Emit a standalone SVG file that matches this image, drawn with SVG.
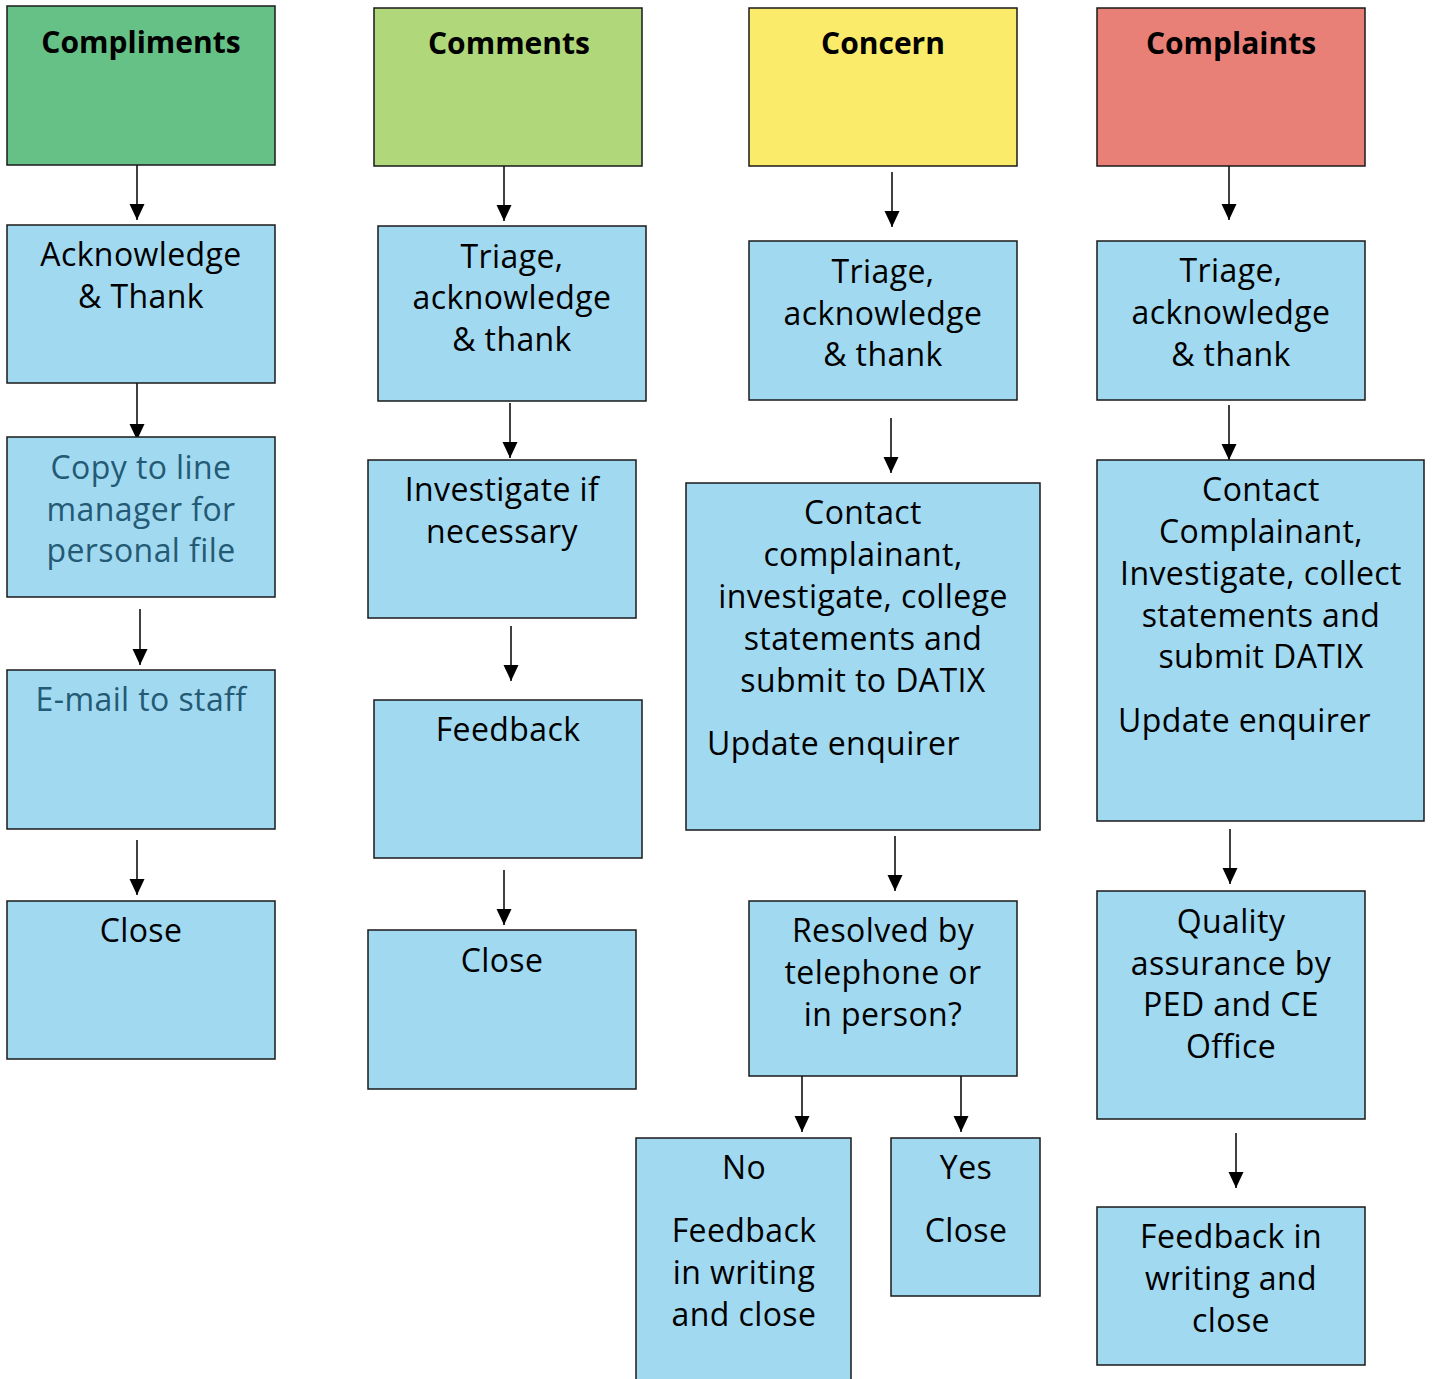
<svg xmlns="http://www.w3.org/2000/svg" width="1432" height="1379" viewBox="0 0 1432 1379">
<style>
.box{stroke:#1a1a1a;stroke-width:1.5;fill:#a1d9f1}
.t{font-family:"Open Sans","Noto Sans","Liberation Sans",sans-serif;font-size:32px;letter-spacing:0.4px;fill:#000;text-anchor:middle}
.h{font-weight:bold;font-size:30px;letter-spacing:0}
.l{text-anchor:start}
.teal{fill:#245a74}
.c{stroke:#000;stroke-width:1.5;fill:none;marker-end:url(#ah)}
</style>
<defs>
<marker id="ah" markerUnits="userSpaceOnUse" markerWidth="16" markerHeight="16" refX="16" refY="7.5" orient="auto" viewBox="0 0 16 15">
<path d="M0,0 L16,7.5 L0,15 Z" fill="#000"/>
</marker>
</defs>
<rect width="1432" height="1379" fill="#fff"/>
<g id="connectors">
<line class="c" x1="137" y1="165" x2="137" y2="220"/>
<line class="c" x1="137" y1="383" x2="137" y2="440"/>
<line class="c" x1="140" y1="609" x2="140" y2="665"/>
<line class="c" x1="137" y1="840" x2="137" y2="895"/>
<line class="c" x1="504" y1="166" x2="504" y2="221"/>
<line class="c" x1="510" y1="403" x2="510" y2="458"/>
<line class="c" x1="511" y1="626" x2="511" y2="681"/>
<line class="c" x1="504" y1="870" x2="504" y2="925"/>
<line class="c" x1="892" y1="172" x2="892" y2="227"/>
<line class="c" x1="891" y1="418" x2="891" y2="473"/>
<line class="c" x1="895" y1="836" x2="895" y2="891"/>
<line class="c" x1="802" y1="1076" x2="802" y2="1132"/>
<line class="c" x1="961" y1="1076" x2="961" y2="1132"/>
<line class="c" x1="1229" y1="166" x2="1229" y2="220"/>
<line class="c" x1="1229" y1="405" x2="1229" y2="460"/>
<line class="c" x1="1230" y1="829" x2="1230" y2="884"/>
<line class="c" x1="1236" y1="1133" x2="1236" y2="1188"/>
</g>
<g id="compliments"><rect class="box" x="7" y="6" width="268" height="159" style="fill:#66c187"/><text class="t h" x="141" y="53">Compliments</text></g>
<g id="acknowledge"><rect class="box" x="7" y="225" width="268" height="158"/><text class="t" x="141" y="266">Acknowledge</text><text class="t" x="141" y="308">&amp; Thank</text></g>
<g id="copy-line-manager"><rect class="box" x="7" y="437" width="268" height="160"/><text class="t teal" x="141" y="479">Copy to line</text><text class="t teal" x="141" y="521">manager for</text><text class="t teal" x="141" y="562">personal file</text></g>
<g id="email-staff"><rect class="box" x="7" y="670" width="268" height="159"/><text class="t teal" x="141" y="711">E-mail to staff</text></g>
<g id="close-1"><rect class="box" x="7" y="901" width="268" height="158"/><text class="t" x="141" y="942">Close</text></g>

<g id="comments"><rect class="box" x="374" y="8" width="268" height="158" style="fill:#b0d87a"/><text class="t h" x="509" y="54">Comments</text></g>
<g id="triage-2"><rect class="box" x="378" y="226" width="268" height="175"/><text class="t" x="512" y="268">Triage,</text><text class="t" x="512" y="309">acknowledge</text><text class="t" x="512" y="351">&amp; thank</text></g>
<g id="investigate"><rect class="box" x="368" y="460" width="268" height="158"/><text class="t" x="502" y="501">Investigate if</text><text class="t" x="502" y="543">necessary</text></g>
<g id="feedback"><rect class="box" x="374" y="700" width="268" height="158"/><text class="t" x="508" y="741">Feedback</text></g>
<g id="close-2"><rect class="box" x="368" y="930" width="268" height="159"/><text class="t" x="502" y="972">Close</text></g>

<g id="concern"><rect class="box" x="749" y="8" width="268" height="158" style="fill:#fbeb6a"/><text class="t h" x="883" y="54">Concern</text></g>
<g id="triage-3"><rect class="box" x="749" y="241" width="268" height="159"/><text class="t" x="883" y="283">Triage,</text><text class="t" x="883" y="325">acknowledge</text><text class="t" x="883" y="366">&amp; thank</text></g>
<g id="contact-3"><rect class="box" x="686" y="483" width="354" height="347"/><text class="t" x="863" y="524">Contact</text><text class="t" x="863" y="566">complainant,</text><text class="t" x="863" y="608">investigate, college</text><text class="t" x="863" y="650">statements and</text><text class="t" x="863" y="692">submit to DATIX</text><text class="t l" x="707" y="755">Update enquirer</text></g>
<g id="resolved"><rect class="box" x="749" y="901" width="268" height="175"/><text class="t" x="883" y="942">Resolved by</text><text class="t" x="883" y="984">telephone or</text><text class="t" x="883" y="1026">in person?</text></g>
<g id="no"><rect class="box" x="636" y="1138" width="215" height="250"/><text class="t" x="744" y="1179">No</text><text class="t" x="744" y="1242">Feedback</text><text class="t" x="744" y="1284">in writing</text><text class="t" x="744" y="1326">and close</text></g>
<g id="yes"><rect class="box" x="891" y="1138" width="149" height="158"/><text class="t" x="966" y="1179">Yes</text><text class="t" x="966" y="1242">Close</text></g>

<g id="complaints"><rect class="box" x="1097" y="8" width="268" height="158" style="fill:#e98077"/><text class="t h" x="1231" y="54">Complaints</text></g>
<g id="triage-4"><rect class="box" x="1097" y="241" width="268" height="159"/><text class="t" x="1231" y="282">Triage,</text><text class="t" x="1231" y="324">acknowledge</text><text class="t" x="1231" y="366">&amp; thank</text></g>
<g id="contact-4"><rect class="box" x="1097" y="460" width="327" height="361"/><text class="t" x="1261" y="501">Contact</text><text class="t" x="1261" y="543">Complainant,</text><text class="t" x="1261" y="585">Investigate, collect</text><text class="t" x="1261" y="627">statements and</text><text class="t" x="1261" y="668">submit DATIX</text><text class="t l" x="1118" y="732">Update enquirer</text></g>
<g id="quality"><rect class="box" x="1097" y="891" width="268" height="228"/><text class="t" x="1231" y="933">Quality</text><text class="t" x="1231" y="975">assurance by</text><text class="t" x="1231" y="1016">PED and CE</text><text class="t" x="1231" y="1058">Office</text></g>
<g id="feedback-writing"><rect class="box" x="1097" y="1207" width="268" height="158"/><text class="t" x="1231" y="1248">Feedback in</text><text class="t" x="1231" y="1290">writing and</text><text class="t" x="1231" y="1332">close</text></g>
</svg>
